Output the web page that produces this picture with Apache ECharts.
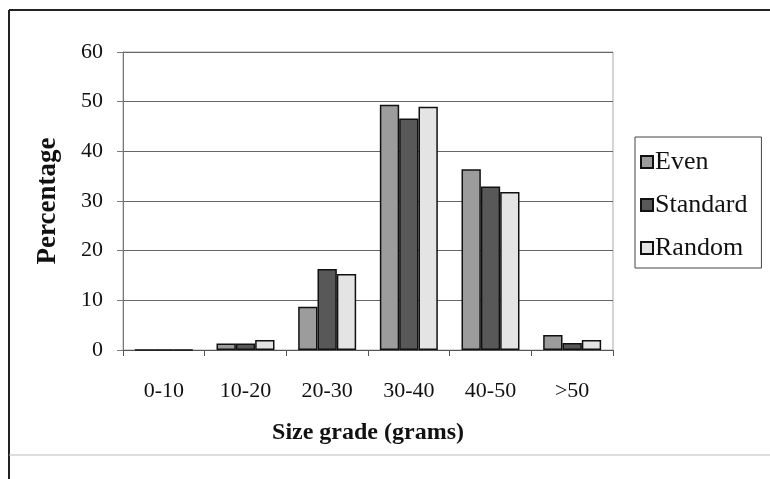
<!DOCTYPE html>
<html>
<head>
<meta charset="utf-8">
<script src="https://cdn.jsdelivr.net/npm/echarts@6/dist/echarts.min.js"></script>
<style>
  html, body { margin: 0; padding: 0; background: #fff; }
  #chart { width: 770px; height: 479px; }
</style>
</head>
<body>
<div id="chart"></div>
<script>
// Size grade distribution (percentage of tubers per grade) for three planting patterns
const categories = ['0-10', '10-20', '20-30', '30-40', '40-50', '>50'];
const evenValues = [0, 1.3, 8.7, 49.4, 36.4, 3.0];
const standardValues = [0, 1.3, 16.3, 46.6, 32.9, 1.4];
const randomValues = [0, 2.0, 15.3, 49.0, 31.8, 2.0];
const yTicks = [0, 10, 20, 30, 40, 50, 60];

const serif = '"Liberation Serif", "DejaVu Serif", serif';
const chart = echarts.init(document.getElementById('chart'));

function barSeries(name, data, color) {
  return {
    name: name,
    type: 'bar',
    data: data,
    barGap: '0%',
    barCategoryGap: '29%',
    itemStyle: { color: color, borderColor: '#111', borderWidth: 1.5 }
  };
}

chart.setOption({
  animation: false,
  backgroundColor: '#fff',
  graphic: [
    // outer chart frame
    { type: 'line', shape: { x1: 9, y1: 10, x2: 770, y2: 10 }, style: { stroke: '#222', lineWidth: 2 } },
    { type: 'line', shape: { x1: 9, y1: 10, x2: 9, y2: 479 }, style: { stroke: '#222', lineWidth: 2 } },
    { type: 'line', shape: { x1: 9, y1: 455, x2: 770, y2: 455 }, style: { stroke: '#bbb', lineWidth: 1 } }
  ],
  grid: {
    left: 123, right: 157, top: 52, bottom: 129,
    show: true, borderColor: '#aaa', borderWidth: 1
  },
  legend: {
    orient: 'vertical',
    left: 635, top: 137,
    itemWidth: 12, itemHeight: 12, itemGap: 17,
    padding: [12, 14, 7, 5],
    borderColor: '#444', borderWidth: 1,
    icon: 'rect',
    textStyle: { fontFamily: serif, fontSize: 26, color: '#111', padding: [0, 0, 0, -3] }
  },
  xAxis: {
    type: 'category',
    data: categories,
    name: 'Size grade (grams)',
    nameLocation: 'middle',
    nameGap: 71,
    nameTextStyle: { fontFamily: serif, fontSize: 24, fontWeight: 'bold', color: '#111' },
    axisLine: { lineStyle: { color: '#555', width: 1 } },
    axisTick: { show: true, length: 6, lineStyle: { color: '#555' } },
    axisLabel: { fontFamily: serif, fontSize: 22, color: '#111', margin: 30 }
  },
  yAxis: {
    type: 'value',
    min: yTicks[0],
    max: yTicks[yTicks.length - 1],
    interval: 10,
    name: 'Percentage',
    nameLocation: 'middle',
    nameGap: 61,
    nameTextStyle: { fontFamily: serif, fontSize: 27, fontWeight: 'bold', color: '#111' },
    axisLine: { show: true, lineStyle: { color: '#777', width: 1 } },
    axisTick: { show: true, length: 6, lineStyle: { color: '#777' } },
    axisLabel: { fontFamily: serif, fontSize: 22, color: '#111', margin: 20 },
    splitLine: { lineStyle: { color: '#666', width: 1 } }
  },
  series: [
    barSeries('Even', evenValues, '#9c9c9c'),
    barSeries('Standard', standardValues, '#585858'),
    barSeries('Random', randomValues, '#e4e4e4')
  ]
});
</script>
</body>
</html>
